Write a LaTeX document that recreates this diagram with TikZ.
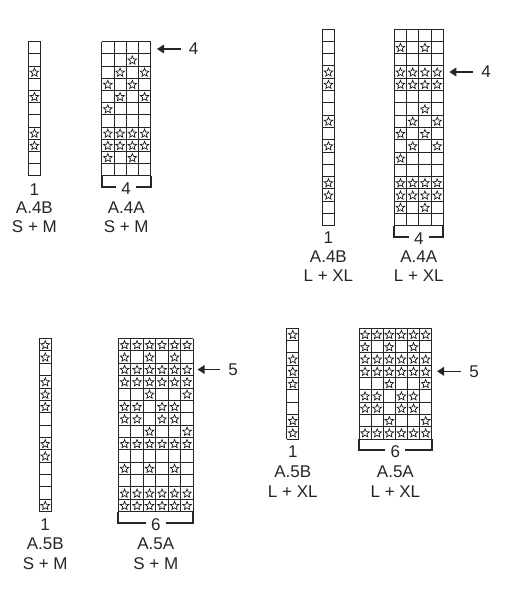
\documentclass[tikz,border=0pt]{standalone}
\usepackage{fontspec}
\setmainfont{Liberation Sans}
\usetikzlibrary{arrows.meta}
\def\kcw{12.3}
\def\kch{12.3}
\def\kR{4.5}
\def\kr{2.0}
\newcommand\kstar[2]{\draw[starline] ({#1},{#2+0.4}) +(270:\kR) -- +(306:\kr) -- +(342:\kR) -- +(18:\kr) -- +(54:\kR) -- +(90:\kr) -- +(126:\kR) -- +(162:\kr) -- +(198:\kR) -- +(234:\kr) -- cycle;}
\newcommand\kgrid[4]{%
  \foreach \ki in {0,...,#3}{\draw[gridline] ({#1+\ki*\kcw},{#2}) -- ({#1+\ki*\kcw},{#2+#4*\kch});}%
  \foreach \kj in {0,...,#4}{\draw[gridline] ({#1},{#2+\kj*\kch}) -- ({#1+#3*\kcw},{#2+\kj*\kch});}%
}
\newcommand\kstars[3]{\foreach \kcol/\krow in {#3}{\kstar{#1+(\kcol-0.5)*\kcw}{#2+(\krow-0.5)*\kch}}}
\begin{document}
\begin{tikzpicture}[x=1bp,y=-1bp,
  gridline/.style={draw=black!85, line width=0.9bp},
  starline/.style={draw=black!90, line width=0.7bp, line join=miter},
  bracketline/.style={draw=black!85, line width=1.8bp},
  arrowline/.style={draw=black!85, line width=1.6bp, -{Triangle[length=7bp,width=8.5bp]}},
  lab/.style={font=\fontsize{17bp}{20bp}\selectfont, text=black!85, inner sep=0pt},
  brlab/.style={lab, inner xsep=5bp, text height=15.2bp, text depth=0pt},
  arlab/.style={lab, inner xsep=8bp}]
\useasboundingbox (0,0) rectangle (509,600);

% ---------- Chart 1: A.4B / A.4A  S + M ----------
\def\kcw{12.25}\def\kch{12.2}
\kgrid{28.3}{41.7}{1}{11}
\kstars{28.3}{41.7}{1/3,1/5,1/8,1/9}
\kgrid{101.7}{41.7}{4}{11}
\kstars{101.7}{41.7}{3/2,2/3,4/3,1/4,3/4,2/5,4/5,1/6,1/8,2/8,3/8,4/8,1/9,2/9,3/9,4/9,1/10,3/10}
\node[lab] (c1one) at (34.4,189.5) {1};
\node[lab] (c1bname) at (34.4,207.5) {A.4B};
\node[lab] (c1bsize) at (34.4,227) {S + M};
\node[brlab] (c1n) at (126.2,186.7) {4};
\draw[bracketline] (101.7,175.9) |- (c1n.west);
\draw[bracketline] (c1n.east) -| (150.7,175.9);
\node[lab] (c1aname) at (126.2,207.5) {A.4A};
\node[lab] (c1asize) at (126.2,227) {S + M};
\coordinate (c1tip) at (157,49);
\node[arlab] (c1arr) at (193.5,49) {4};
\draw[arrowline] (c1arr.west) -- (c1tip);

% ---------- Chart 2: A.4B / A.4A  L + XL ----------
\def\kcw{12.25}\def\kch{12.3}
\kgrid{322.3}{29}{1}{16}
\kstars{322.3}{29}{1/4,1/5,1/8,1/10,1/13,1/14}
\kgrid{394.3}{29}{4}{16}
\kstars{394.3}{29}{1/2,3/2,1/4,2/4,3/4,4/4,1/5,2/5,3/5,4/5,3/7,2/8,4/8,1/9,3/9,2/10,4/10,1/11,1/13,2/13,3/13,4/13,1/14,2/14,3/14,4/14,1/15,3/15}
\node[lab] (c2one) at (328.4,238) {1};
\node[lab] (c2bname) at (328.4,257) {A.4B};
\node[lab] (c2bsize) at (328.4,276) {L + XL};
\node[brlab] (c2n) at (418.8,236.8) {4};
\draw[bracketline] (394.3,225.8) |- (c2n.west);
\draw[bracketline] (c2n.east) -| (443.3,225.8);
\node[lab] (c2aname) at (418.8,257) {A.4A};
\node[lab] (c2asize) at (418.8,276) {L + XL};
\coordinate (c2tip) at (449.3,72);
\node[arlab] (c2arr) at (486.2,72) {4};
\draw[arrowline] (c2arr.west) -- (c2tip);

% ---------- Chart 3: A.5B / A.5A  S + M ----------
\def\kcw{12.5}\def\kch{12.37}
\kgrid{39}{338.5}{1}{14}
\kstars{39}{338.5}{1/1,1/2,1/4,1/5,1/6,1/9,1/10,1/14}
\kgrid{118.3}{338.5}{6}{14}
\kstars{118.3}{338.5}{1/1,2/1,3/1,4/1,5/1,6/1,1/2,3/2,5/2,1/3,2/3,3/3,4/3,5/3,6/3,1/4,2/4,3/4,4/4,5/4,6/4,3/5,6/5,1/6,2/6,4/6,5/6,1/7,2/7,4/7,5/7,3/8,6/8,1/9,2/9,3/9,4/9,5/9,6/9,1/11,3/11,5/11,1/13,2/13,3/13,4/13,5/13,6/13,1/14,2/14,3/14,4/14,5/14,6/14}
\node[lab] (c3one) at (45.2,525) {1};
\node[lab] (c3bname) at (45.2,543.5) {A.5B};
\node[lab] (c3bsize) at (45.2,563.5) {S + M};
\node[brlab] (c3n) at (155.8,523.3) {6};
\draw[bracketline] (118.3,511.7) |- (c3n.west);
\draw[bracketline] (c3n.east) -| (193.3,511.7);
\node[lab] (c3aname) at (155.8,543.5) {A.5A};
\node[lab] (c3asize) at (155.8,563.5) {S + M};
\coordinate (c3tip) at (197.5,369.5);
\node[arlab] (c3arr) at (233,369.5) {5};
\draw[arrowline] (c3arr.west) -- (c3tip);

% ---------- Chart 4: A.5B / A.5A  L + XL ----------
\def\kcw{12.12}\def\kch{12.3}
\kgrid{286.7}{328.3}{1}{9}
\kstars{286.7}{328.3}{1/1,1/3,1/4,1/5,1/8,1/9}
\kgrid{359}{328.3}{6}{9}
\kstars{359}{328.3}{1/1,2/1,3/1,4/1,5/1,6/1,1/2,3/2,5/2,1/3,2/3,3/3,4/3,5/3,6/3,1/4,2/4,3/4,4/4,5/4,6/4,3/5,6/5,1/6,2/6,4/6,5/6,1/7,2/7,4/7,5/7,3/8,6/8,1/9,2/9,3/9,4/9,5/9,6/9}
\node[lab] (c4one) at (292.8,452) {1};
\node[lab] (c4bname) at (292.8,472) {A.5B};
\node[lab] (c4bsize) at (292.8,492) {L + XL};
\node[brlab] (c4n) at (395.4,450) {6};
\draw[bracketline] (359,439) |- (c4n.west);
\draw[bracketline] (c4n.east) -| (431.7,439);
\node[lab] (c4aname) at (395.4,472) {A.5A};
\node[lab] (c4asize) at (395.4,492) {L + XL};
\coordinate (c4tip) at (437,371.3);
\node[arlab] (c4arr) at (474,371.3) {5};
\draw[arrowline] (c4arr.west) -- (c4tip);
\end{tikzpicture}
\end{document}
